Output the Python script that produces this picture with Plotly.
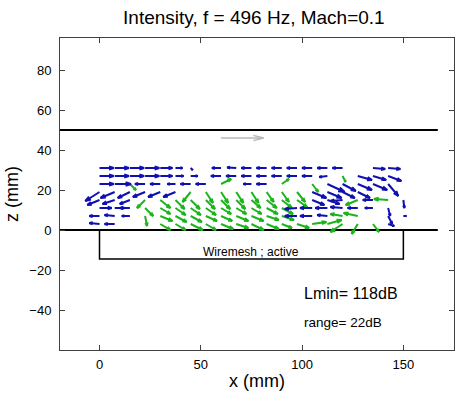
import plotly.graph_objects as go

# ---------------- data ----------------
X_GRID = [0, 7.5, 15, 22.5, 30, 37.5, 45, 52.5, 60, 67.5, 75, 82.5, 90, 97.5,
          105, 112.5, 120, 127.5, 135, 142.5, 150]
Z_ROWS = [31, 27, 23, 19, 15, 11, 7, 3]

U = [
    [7, 7, 7, 7, 6, 3.5, 1, 0, -4.5, -4.5, -5, -5, -5, -5, -5, -5, -5, 0, 6, 6, 0],
    [7, 7, 7, 7, 6, 4, 3.5, 0, -5, -5, -5, -5, -5, -5, -5, -4, 1.5, 7, 6.5, 6.5, 0],
    [7, 8, 3, -5, -5, -4, -5, -5, 5, 0, -4, -5, 3.5, 0, 3, 8.5, 6.5, 7, 7, 5, 0],
    [-7, -7, -6, -6, -6, -6, -4, 3.5, 3.5, 3.5, 3.5, 3.5, 3.5, 4, 7, 7, 6, 6, 0, 0, 0],
    [-6, -6, -5, -4, 5, 4.5, 4.5, 4.5, 4.5, 4.5, 4.5, 5, 5, 5, 6, 6, -6, -6, -5, -7, 0.5],
    [6, 5, -5, 4, 5, 5, 5, 5, 5, 5, 5, 5.5, 5.5, -6, -6, -6, -6, -5, -4, 1, 0],
    [-5, -5, -4, 1, 6, 5.5, 5.5, 5.5, 5.5, 6, 6, 6, 6, -6, -6, -5, -6, -7, 0, 2, 1.5],
    [-5, -5, 0, 0, 5, 5, 6, 5, 6, 6, 6, 6, 5, 6, 7, 7, -6, -3, 3, 3, 0],
]
V = [
    [0, 0, 0, 0, 0, 0, -1, 0, 0, 0.3, 0, 0, 0, 0, 0, 0, 0, 0, -0.5, -0.5, 0],
    [0, 0, 0, 0, 0, 0, 0, 0, 0, 0, 0, 0, 0, 0, 0, -0.5, -3, -2, -2, -2.5, 0],
    [0, 0, -3, 0, 0, 0, 0, 0, 2.5, 0, 0, 0, 2.5, 0, -4, -4, -3.5, -3, -3, -6, 0],
    [-4.5, -3, -3, -2.5, -2.5, -2.5, -5, -5.5, -5.5, -5.5, -5.5, -5, -5, -5, -3, -3, -3, -3, 0, 0, 0],
    [-2.5, -2, -2, -4, -4, -4.5, -4.5, -4.5, -4.5, -4.5, -4, -4, -4, -3.5, -2.5, -2, -0.5, -2.5, 0, 0.5, -4],
    [0, 0, 0, -4, -3, -3.5, -3.5, -3.5, -3, -3, -3, -3, -3, -0.5, 0, 0, 0.5, 0, 0, -4, 0],
    [0, 0.5, 0, -5, -2.5, -3, -3, -2.5, -2.5, -2.5, -2.5, -2, -2, 0, 0, 0.5, 1, 1.5, 0, -4, 0],
    [0.5, 0, 0, 0, -3, -3, -3, -3, -2.5, -2, -3, -2.5, -2, -2, 1, 2, -4, -5, -4, -1, 0],
]
# b = blue, g = green, . = no vector
KIND = [
    "bbbbbbb.bbbbbbbbb.bb.",
    "bbbbbbb.bbbbbbbbgbbb.",
    "bbgbbbbbg.bbg.gbbbbb.",
    "bbbbbbggggggggbbbb...",
    "bbbgggggggggggbbbgbgb",
    "bbbggggggggggbbbbbbb.",
    "bbbggggggggggbbbgg.bb",
    "bb..gggggggggggggggb.",
]

REF_X, REF_Z, REF_U, REF_V = [60], [46], [21], [0]

DUCT_X = [-20, 167]
DUCT_Z = [50, 0]
MESH_X = [0, 150]
MESH_Z = [0, -14.5]

TITLE = "Intensity, f = 496 Hz, Mach=0.1"
LMIN = "Lmin= 118dB"
RANGE = "range= 22dB"
MESH_LABEL = "Wiremesh ; active"

BLUE = "#1010b0"
GREEN = "#1cb41c"
FONT = "Liberation Sans, Arial, sans-serif"


def quiver_path(xs, zs, us, vs, alpha=0.33, beta=0.33):
    px, pz = [], []
    for x, z, u, v in zip(xs, zs, us, vs):
        hx, hz = x + u, z + v
        px += [x, hx, None,
               hx - alpha * (u + beta * v), hx, hx - alpha * (u - beta * v), None]
        pz += [z, hz, None,
               hz - alpha * (v - beta * u), hz, hz - alpha * (v + beta * u), None]
    return px, pz


groups = {"b": ([], [], [], []), "g": ([], [], [], [])}
for r, z in enumerate(Z_ROWS):
    for k, x in enumerate(X_GRID):
        c = KIND[r][k]
        if c in groups:
            g = groups[c]
            g[0].append(x)
            g[1].append(z)
            g[2].append(U[r][k])
            g[3].append(V[r][k])

fig = go.Figure()

for zline in DUCT_Z:
    fig.add_trace(go.Scatter(x=DUCT_X, y=[zline, zline], mode="lines",
                             line=dict(color="black", width=2), hoverinfo="skip"))
fig.add_trace(go.Scatter(
    x=[MESH_X[0], MESH_X[0], MESH_X[1], MESH_X[1]],
    y=[MESH_Z[0], MESH_Z[1], MESH_Z[1], MESH_Z[0]],
    mode="lines", line=dict(color="black", width=1.5), hoverinfo="skip"))

rx, rz = quiver_path(REF_X, REF_Z, REF_U, REF_V, alpha=0.24, beta=0.25)
fig.add_trace(go.Scatter(x=rx, y=rz, mode="lines",
                         line=dict(color="#b8b8b8", width=1.3), hoverinfo="skip"))

for key, col in (("g", GREEN), ("b", BLUE)):
    xs, zs, us, vs = groups[key]
    px, pz = quiver_path(xs, zs, us, vs)
    fig.add_trace(go.Scatter(x=px, y=pz, mode="lines",
                             line=dict(color=col, width=2), hoverinfo="skip"))

fig.add_annotation(x=75, y=-11, text=MESH_LABEL, showarrow=False,
                   font=dict(size=12, color="black", family=FONT))
fig.add_annotation(x=100, y=-31.5, text=LMIN, showarrow=False, xanchor="left",
                   font=dict(size=16, color="black", family=FONT))
fig.add_annotation(x=100, y=-46, text=RANGE, showarrow=False, xanchor="left",
                   font=dict(size=13.5, color="black", family=FONT))

axis_common = dict(showgrid=False, zeroline=False, showline=True, mirror="ticks",
                   linecolor="#404040", linewidth=1, ticks="inside", ticklen=5,
                   tickcolor="#404040", tickfont=dict(size=13, color="black", family=FONT))

fig.update_layout(
    width=455, height=397,
    margin=dict(l=60, r=1, t=38, b=47),
    paper_bgcolor="white", plot_bgcolor="white",
    showlegend=False,
    title=dict(text=TITLE, x=0.558, xanchor="center", y=1 - 17 / 397, yanchor="middle",
               yref="container", font=dict(size=19, color="black", family=FONT)),
    xaxis=dict(range=[-19.5, 175], tickvals=[0, 50, 100, 150],
               title=dict(text="x (mm)", standoff=3,
                          font=dict(size=18, color="black", family=FONT)),
               ticklabelstandoff=2, **axis_common),
    yaxis=dict(range=[-60, 96], tickvals=[-40, -20, 0, 20, 40, 60, 80],
               title=dict(text="z (mm)", standoff=6,
                          font=dict(size=18, color="black", family=FONT)),
               ticklabelstandoff=5, **axis_common),
)

fig.write_html("out.html")
